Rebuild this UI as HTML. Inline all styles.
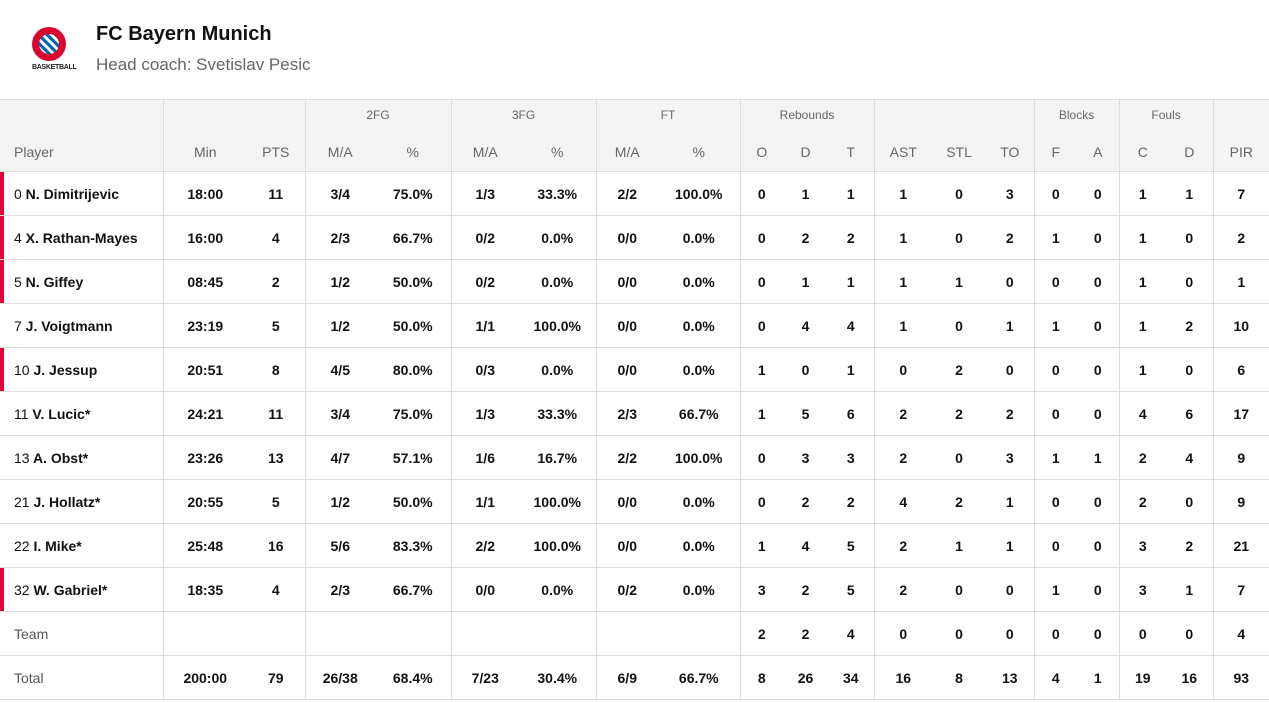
<!DOCTYPE html>
<html><head><meta charset="utf-8"><style>
*{margin:0;padding:0;box-sizing:border-box}
body{width:1269px;height:702px;background:#fff;font-family:"Liberation Sans",sans-serif;color:#111;position:relative;overflow:hidden}
.logo{position:absolute;left:32px;top:27px;width:34px;height:34px;border-radius:50%;background:#dc052d;}
.logo:after{content:"";position:absolute;left:7px;top:7px;width:20px;height:20px;border-radius:50%;background:repeating-linear-gradient(45deg,#0066b2 0 3px,#fff 3px 6px)}
.bb{position:absolute;left:32px;top:64px;font-size:7px;font-weight:bold;letter-spacing:-0.3px;color:#222}
h1{position:absolute;left:96px;top:23px;font-size:20px;font-weight:bold}
.coach{position:absolute;left:96px;top:55px;font-size:17px;color:#666}
table{position:absolute;left:0;top:99px;border-collapse:collapse;table-layout:fixed;width:1269px;font-size:14px}
td,th{text-align:center;border-bottom:1px solid #ddd;padding:0;white-space:nowrap}
thead tr{background:#f4f4f4}
thead th{font-weight:normal;color:#666}
tr.g th{height:34px;font-size:12px;border-bottom:none;padding-bottom:3px}
tr.h th{height:38px;border-bottom:1px solid #ddd}
thead tr.g{border-top:1px solid #ddd}
tbody td{height:44px;font-weight:bold}
.l{border-left:1px solid #ddd}
td.p,th.p{text-align:left;padding-left:14px;position:relative}
td.p span{font-weight:normal}
td.s:before{content:"";position:absolute;left:0;top:0;bottom:0;width:4px;background:#e4003a}
td.n{font-weight:normal;color:#555}
</style></head><body>
<div class="logo"></div><div class="bb">BASKETBALL</div>
<h1>FC Bayern Munich</h1>
<div class="coach">Head coach: Svetislav Pesic</div>
<table>
<colgroup><col style="width:163px"><col style="width:84px"><col style="width:58px"><col style="width:70px"><col style="width:76px"><col style="width:68px"><col style="width:77px"><col style="width:62px"><col style="width:82px"><col style="width:43px"><col style="width:45px"><col style="width:46px"><col style="width:58px"><col style="width:54px"><col style="width:48px"><col style="width:43px"><col style="width:42px"><col style="width:47px"><col style="width:47px"><col style="width:56px"></colgroup>
<thead>
<tr class="g"><th></th><th class="l" colspan="2"></th><th class="l" colspan="2">2FG</th><th class="l" colspan="2">3FG</th><th class="l" colspan="2">FT</th><th class="l" colspan="3">Rebounds</th><th class="l" colspan="3"></th><th class="l" colspan="2">Blocks</th><th class="l" colspan="2">Fouls</th><th class="l"></th></tr>
<tr class="h"><th class="p">Player</th><th class="l">Min</th><th>PTS</th><th class="l">M/A</th><th>%</th><th class="l">M/A</th><th>%</th><th class="l">M/A</th><th>%</th><th class="l">O</th><th>D</th><th>T</th><th class="l">AST</th><th>STL</th><th>TO</th><th class="l">F</th><th>A</th><th class="l">C</th><th>D</th><th class="l">PIR</th></tr>
</thead>
<tbody>
<tr><td class="p s"><span>0</span> N. Dimitrijevic</td><td class="l">18:00</td><td>11</td><td class="l">3/4</td><td>75.0%</td><td class="l">1/3</td><td>33.3%</td><td class="l">2/2</td><td>100.0%</td><td class="l">0</td><td>1</td><td>1</td><td class="l">1</td><td>0</td><td>3</td><td class="l">0</td><td>0</td><td class="l">1</td><td>1</td><td class="l">7</td></tr>
<tr><td class="p s"><span>4</span> X. Rathan-Mayes</td><td class="l">16:00</td><td>4</td><td class="l">2/3</td><td>66.7%</td><td class="l">0/2</td><td>0.0%</td><td class="l">0/0</td><td>0.0%</td><td class="l">0</td><td>2</td><td>2</td><td class="l">1</td><td>0</td><td>2</td><td class="l">1</td><td>0</td><td class="l">1</td><td>0</td><td class="l">2</td></tr>
<tr><td class="p s"><span>5</span> N. Giffey</td><td class="l">08:45</td><td>2</td><td class="l">1/2</td><td>50.0%</td><td class="l">0/2</td><td>0.0%</td><td class="l">0/0</td><td>0.0%</td><td class="l">0</td><td>1</td><td>1</td><td class="l">1</td><td>1</td><td>0</td><td class="l">0</td><td>0</td><td class="l">1</td><td>0</td><td class="l">1</td></tr>
<tr><td class="p"><span>7</span> J. Voigtmann</td><td class="l">23:19</td><td>5</td><td class="l">1/2</td><td>50.0%</td><td class="l">1/1</td><td>100.0%</td><td class="l">0/0</td><td>0.0%</td><td class="l">0</td><td>4</td><td>4</td><td class="l">1</td><td>0</td><td>1</td><td class="l">1</td><td>0</td><td class="l">1</td><td>2</td><td class="l">10</td></tr>
<tr><td class="p s"><span>10</span> J. Jessup</td><td class="l">20:51</td><td>8</td><td class="l">4/5</td><td>80.0%</td><td class="l">0/3</td><td>0.0%</td><td class="l">0/0</td><td>0.0%</td><td class="l">1</td><td>0</td><td>1</td><td class="l">0</td><td>2</td><td>0</td><td class="l">0</td><td>0</td><td class="l">1</td><td>0</td><td class="l">6</td></tr>
<tr><td class="p"><span>11</span> V. Lucic*</td><td class="l">24:21</td><td>11</td><td class="l">3/4</td><td>75.0%</td><td class="l">1/3</td><td>33.3%</td><td class="l">2/3</td><td>66.7%</td><td class="l">1</td><td>5</td><td>6</td><td class="l">2</td><td>2</td><td>2</td><td class="l">0</td><td>0</td><td class="l">4</td><td>6</td><td class="l">17</td></tr>
<tr><td class="p"><span>13</span> A. Obst*</td><td class="l">23:26</td><td>13</td><td class="l">4/7</td><td>57.1%</td><td class="l">1/6</td><td>16.7%</td><td class="l">2/2</td><td>100.0%</td><td class="l">0</td><td>3</td><td>3</td><td class="l">2</td><td>0</td><td>3</td><td class="l">1</td><td>1</td><td class="l">2</td><td>4</td><td class="l">9</td></tr>
<tr><td class="p"><span>21</span> J. Hollatz*</td><td class="l">20:55</td><td>5</td><td class="l">1/2</td><td>50.0%</td><td class="l">1/1</td><td>100.0%</td><td class="l">0/0</td><td>0.0%</td><td class="l">0</td><td>2</td><td>2</td><td class="l">4</td><td>2</td><td>1</td><td class="l">0</td><td>0</td><td class="l">2</td><td>0</td><td class="l">9</td></tr>
<tr><td class="p"><span>22</span> I. Mike*</td><td class="l">25:48</td><td>16</td><td class="l">5/6</td><td>83.3%</td><td class="l">2/2</td><td>100.0%</td><td class="l">0/0</td><td>0.0%</td><td class="l">1</td><td>4</td><td>5</td><td class="l">2</td><td>1</td><td>1</td><td class="l">0</td><td>0</td><td class="l">3</td><td>2</td><td class="l">21</td></tr>
<tr><td class="p s"><span>32</span> W. Gabriel*</td><td class="l">18:35</td><td>4</td><td class="l">2/3</td><td>66.7%</td><td class="l">0/0</td><td>0.0%</td><td class="l">0/2</td><td>0.0%</td><td class="l">3</td><td>2</td><td>5</td><td class="l">2</td><td>0</td><td>0</td><td class="l">1</td><td>0</td><td class="l">3</td><td>1</td><td class="l">7</td></tr>
<tr><td class="p n">Team</td><td class="l"></td><td></td><td class="l"></td><td></td><td class="l"></td><td></td><td class="l"></td><td></td><td class="l">2</td><td>2</td><td>4</td><td class="l">0</td><td>0</td><td>0</td><td class="l">0</td><td>0</td><td class="l">0</td><td>0</td><td class="l">4</td></tr>
<tr><td class="p n">Total</td><td class="l">200:00</td><td>79</td><td class="l">26/38</td><td>68.4%</td><td class="l">7/23</td><td>30.4%</td><td class="l">6/9</td><td>66.7%</td><td class="l">8</td><td>26</td><td>34</td><td class="l">16</td><td>8</td><td>13</td><td class="l">4</td><td>1</td><td class="l">19</td><td>16</td><td class="l">93</td></tr>
</tbody></table>
</body></html>
